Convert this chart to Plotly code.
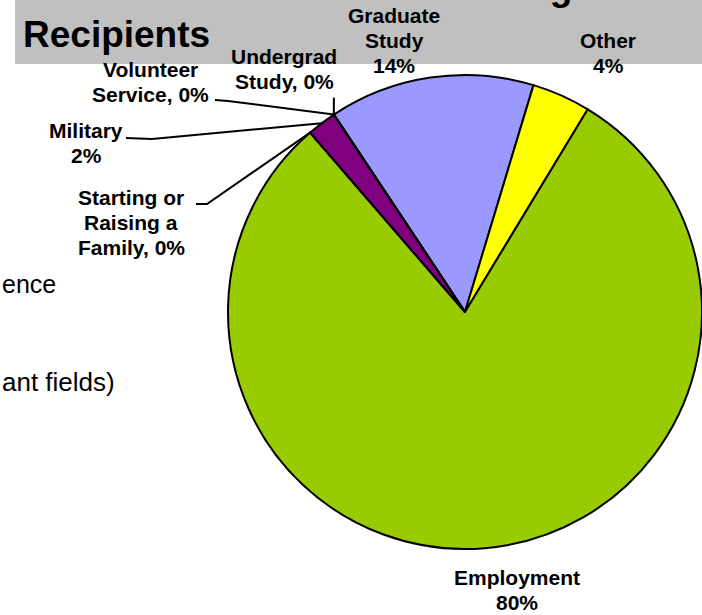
import math
import plotly.graph_objects as go

# ---- data ----
categories = ["Graduate Study", "Other", "Employment", "Starting or Raising a Family",
              "Military", "Volunteer Service", "Undergrad Study"]
values = [14, 4, 80, 0, 2, 0, 0]
colors = ["#9999FF", "#FFFF00", "#99CC00", "#800080", "#800080", "#800080", "#9999FF"]
label_lines = {
    "Graduate Study": ["Graduate", "Study", "{v}%"],
    "Other": ["Other", "{v}%"],
    "Employment": ["Employment", "{v}%"],
    "Starting or Raising a Family": ["Starting or", "Raising a", "Family, {v}%"],
    "Military": ["Military", "{v}%"],
    "Volunteer Service": ["Volunteer", "Service, {v}%"],
    "Undergrad Study": ["Undergrad", "Study, {v}%"],
}
title_lines = ["Future Plans of Bachelor's Degree", "Recipients"]
side_texts = ["ence", "ant fields)"]

W, H = 702, 615
ROT = -33.6
CX, CY, R = 465, 312, 237
LINE_H = 25

def px(x):
    return x / W

def py(y):
    return 1 - y / H

fig = go.Figure()
fig.add_trace(go.Pie(
    labels=categories, values=values, sort=False, direction="clockwise",
    rotation=ROT, textinfo="none", hoverinfo="skip", showlegend=False,
    marker=dict(colors=colors, line=dict(color="black", width=2)),
    domain=dict(x=[px(CX - R), px(CX + R)], y=[py(CY + R), py(CY - R)]),
))

# anchor points on pie edge (from data)
total = sum(values)
anchors = {}
acc = 0
for c, v in zip(categories, values):
    mid = ROT + 360 * (acc + v / 2) / total
    a = math.radians(mid)
    anchors[c] = (CX + R * math.sin(a), CY - R * math.cos(a))
    acc += v

# label placement (pixel centres) and leader line start points
label_pos = {
    "Graduate Study": (394, 40),
    "Other": (608, 53),
    "Employment": (517, 590),
    "Starting or Raising a Family": (131, 222),
    "Military": (86, 143),
    "Volunteer Service": (150, 82),
    "Undergrad Study": (284, 69),
}
leader_start = {
    "Starting or Raising a Family": [(196, 204), (207, 204)],
    "Military": [(126, 138), (152, 139)],
    "Volunteer Service": [(215, 100), (228, 101)],
    "Undergrad Study": [None],
}

FONT = "Liberation Sans, Arial, sans-serif"
ann = []
for c, v in zip(categories, values):
    lines = [s.format(v=v) for s in label_lines[c]]
    x, y = label_pos[c]
    n = len(lines)
    for i, s in enumerate(lines):
        yy = y + (i - (n - 1) / 2) * LINE_H
        ann.append(dict(x=px(x), y=py(yy), xref="paper", yref="paper", text="<b>" + s + "</b>",
                        showarrow=False, xanchor="center", yanchor="middle",
                        font=dict(family=FONT, size=21, color="black")))

shapes = [dict(type="rect", xref="paper", yref="paper", x0=px(15), x1=1, y0=py(64), y1=1,
               fillcolor="#C0C0C0", line=dict(width=0), layer="below")]
for c, pts in leader_start.items():
    ax, ay = anchors[c]
    if pts[0] is None:
        pts = [(ax, ay - 17)]
    path = "M " + " L ".join(f"{px(x)},{py(y)}" for x, y in pts + [(ax, ay)])
    shapes.append(dict(type="path", xref="paper", yref="paper", path=path,
                       line=dict(color="black", width=2)))

# title (first line is cut off by the top edge)
ann.append(dict(x=px(23), y=py(-12), xref="paper", yref="paper", text="<b>" + title_lines[0] + "</b>",
                showarrow=False, xanchor="left", yanchor="middle",
                font=dict(family=FONT, size=37, color="black")))
ann.append(dict(x=px(21), y=py(34), xref="paper", yref="paper", text="<b>" + title_lines[1] + "</b>",
                showarrow=False, xanchor="left", yanchor="middle",
                font=dict(family=FONT, size=37, color="black")))
# background slide text
ann.append(dict(x=0, y=py(284), xref="paper", yref="paper", text=side_texts[0],
                showarrow=False, xanchor="left", yanchor="middle",
                font=dict(family=FONT, size=25, color="black")))
ann.append(dict(x=0, y=py(382), xref="paper", yref="paper", text=side_texts[1],
                showarrow=False, xanchor="left", yanchor="middle",
                font=dict(family=FONT, size=26, color="black")))

fig.update_layout(width=W, height=H, margin=dict(l=0, r=0, t=0, b=0),
                  paper_bgcolor="white", plot_bgcolor="white",
                  annotations=ann, shapes=shapes)
fig.write_html("out.html", config={"displayModeBar": False},
               post_script="document.body.style.margin='0';document.body.style.overflow='hidden';")
